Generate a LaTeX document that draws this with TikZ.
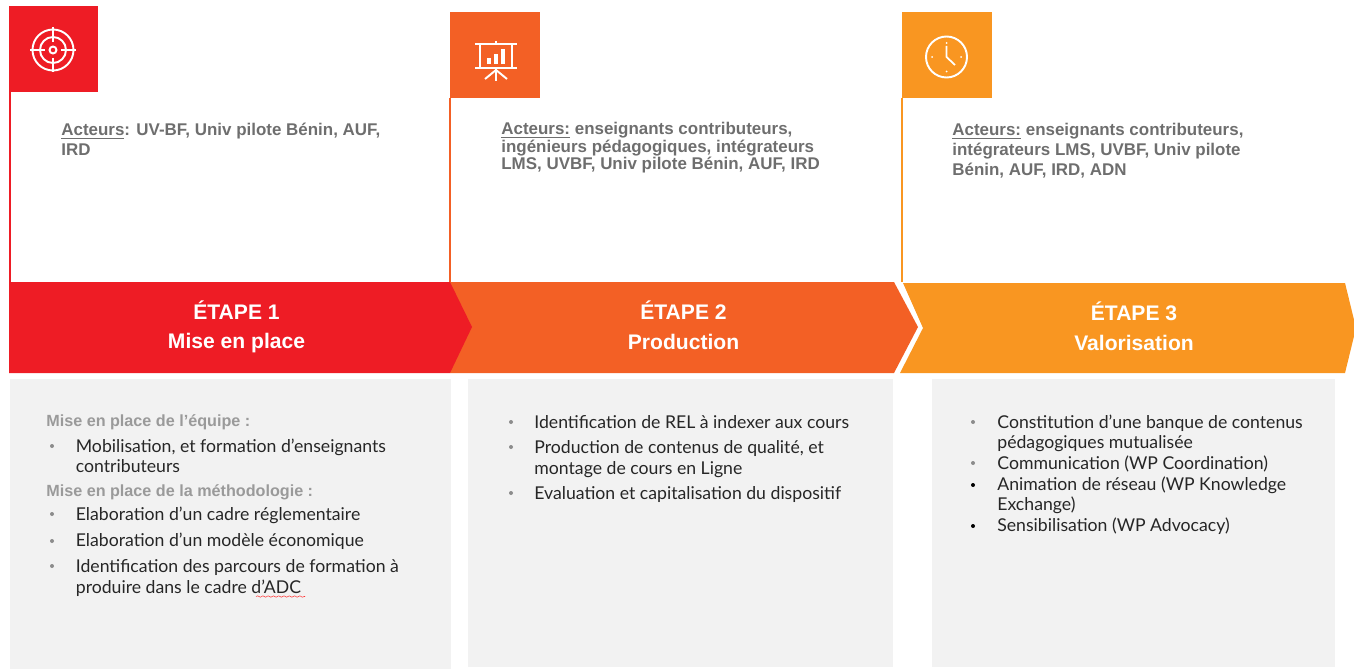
\documentclass[tikz,border=0pt]{standalone}
\usepackage{fontspec}
\setmainfont{Liberation Sans}
\newfontfamily\bodyfont{Lato}
\usetikzlibrary{decorations.pathmorphing}
\definecolor{etapeun}{HTML}{EE1C25}
\definecolor{etapedeux}{HTML}{F36025}
\definecolor{etapetrois}{HTML}{F99621}
\definecolor{boxgris}{HTML}{F2F2F2}
\definecolor{acteurgris}{HTML}{6E6E6E}
\definecolor{titregris}{HTML}{9A9A9A}
\definecolor{puce}{HTML}{8C8C8C}
\tikzset{
	acteur/.style={right,inner sep=0pt,text=acteurgris,font=\fontsize{9.65}{11.2}\selectfont\bfseries},
	etape/.style={inner sep=0pt,text=white,font=\fontsize{12}{14}\selectfont\bfseries},
	titre/.style={right,inner sep=0pt,text=titregris,font=\fontsize{9.2}{11}\selectfont\bfseries},
	ligne/.style={right,inner sep=0pt,text=black!85,font=\bodyfont\fontsize{10.05}{12}\selectfont},
	icone/.style={white,line width=1.1pt},
}
\begin{document}
\begin{tikzpicture}[x=0.02cm,y=-0.02cm]
		\useasboundingbox (0,0) rectangle (1354,669);
		
		% colonnes du haut
		\draw[etapeun,line width=1.1pt] (10,92) -- (10,282);
		\draw[etapedeux,line width=1.1pt] (450,98) -- (450,282);
		\draw[etapetrois,line width=1.1pt] (902,98) -- (902,282);
		\fill[etapeun] (9,6) rectangle (98,92);
		\fill[etapedeux] (450,12) rectangle (540,98);
		\fill[etapetrois] (902,12) rectangle (992,98);
		
		% icone cible
		\draw[icone] (53,50) circle (20.5);
		\draw[icone] (53,50) circle (13);
		\draw[icone] (53,50) circle (3.5);
		\draw[icone] (53,27) -- (53,42);
		\draw[icone] (53,58) -- (53,72);
		\draw[icone] (30,50) -- (45,50);
		\draw[icone] (61,50) -- (76,50);
		
		% icone tableau
		\draw[icone] (475,44) -- (517,44);
		\draw[icone] (475,68) -- (517,68);
		\draw[icone] (480,44) -- (480,68);
		\draw[icone] (512,44) -- (512,68);
		\draw[icone] (496,41) -- (496,44);
		\draw[icone] (496,68) -- (496,81);
		\draw[icone] (485,79) -- (496,70) -- (507,79);
		\fill[white] (487,58) rectangle (491,64);
		\fill[white] (494,54) rectangle (498,64);
		\fill[white] (501,49) rectangle (505,64);
		
		% icone horloge
		\draw[icone] (946.5,57) circle (20.5);
		\draw[icone,line width=1pt] (946.5,46) -- (946.5,57) -- (955,65);
		\fill[white] (946.5,43) circle (1);
		\fill[white] (946.5,71.5) circle (1);
		\fill[white] (932,57) circle (1);
		\fill[white] (961,57) circle (1);
		
		% fleches
		\fill[etapetrois] (903,283) -- (1345,283) -- (1356,328) -- (1345,373) -- (900,373) -- (923,328) -- cycle;
		\fill[etapedeux] (450,282) -- (894,282) -- (918,327) -- (894,373) -- (450,373) -- cycle;
		\fill[etapeun] (9,282) -- (450,282) -- (472,327) -- (450,373) -- (9,373) -- cycle;
		
		\node[etape] (etape1) at (236.5,310.5) {ÉTAPE 1};
		\node[etape] (mise) at (236.5,343) {Mise en place};
		\node[etape] (etape2) at (683.5,310.5) {ÉTAPE 2};
		\node[etape] (prod) at (683.5,342) {Production};
		\node[etape] (etape3) at (1134,311.5) {ÉTAPE 3};
		\node[etape] (valo) at (1134,343) {Valorisation};
		
		% acteurs
		\node[acteur] (act1a) at (61,131) {\underline{Acteurs}: UV-BF, Univ pilote Bénin, AUF,};
		\node[acteur] (act1b) at (61,149.5) {IRD};
		\node[acteur] (act2a) at (501,130) {\underline{Acteurs:} enseignants contributeurs,};
		\node[acteur] (act2b) at (501,148) {ingénieurs pédagogiques, intégrateurs};
		\node[acteur] (act2c) at (501,165) {LMS, UVBF, Univ pilote Bénin, AUF, IRD};
		\node[acteur] (act3a) at (952,131) {\underline{Acteurs:} enseignants contributeurs,};
		\node[acteur] (act3b) at (952,151) {intégrateurs LMS, UVBF, Univ pilote};
		\node[acteur] (act3c) at (952,171) {Bénin, AUF, IRD, ADN};
		
		% boites grises
		\fill[boxgris] (10,379) rectangle (451,669);
		\fill[boxgris] (468,379) rectangle (893,667);
		\fill[boxgris] (932,379) rectangle (1335,667);
		
		% boite 1
		\node[titre] (t1) at (46,422.5) {Mise en place de l’équipe :};
		\node[ligne] (l1) at (75.5,447) {Mobilisation, et formation d’enseignants};
		\node[ligne] (l2) at (75.5,466.5) {contributeurs};
		\node[titre] (t2) at (46,492) {Mise en place de la méthodologie :};
		\node[ligne] (l3) at (75.5,515) {Elaboration d’un cadre réglementaire};
		\node[ligne] (l4) at (75.5,541.5) {Elaboration d’un modèle économique};
		\node[ligne] (l5) at (75.5,568) {Identification des parcours de formation à};
		\node[ligne] (l6) at (75.5,588) {produire dans le cadre d’ADC};
		\fill[puce] (52,446) circle (2);
		\fill[puce] (52,514) circle (2);
		\fill[puce] (52,541) circle (2);
		\fill[puce] (52,566) circle (2);
		\draw[red!80,line width=.3pt,decorate,decoration={snake,amplitude=.4pt,segment length=3pt}] (256,596.5) -- (305,596.5);
		
		% boite 2
		\node[ligne] (p1) at (534,422.5) {Identification de REL à indexer aux cours};
		\node[ligne] (p2) at (534,449) {Production de contenus de qualité, et};
		\node[ligne] (p3) at (534,470) {montage de cours en Ligne};
		\node[ligne] (p4) at (534,494.5) {Evaluation et capitalisation du dispositif};
		\fill[puce] (511,422) circle (2);
		\fill[puce] (511,447) circle (2);
		\fill[puce] (511,493) circle (2);
		
		% boite 3
		\node[ligne] (v1) at (997,423) {Constitution d’une banque de contenus};
		\node[ligne] (v2) at (997,443.5) {pédagogiques mutualisée};
		\node[ligne] (v3) at (997,464) {Communication (WP Coordination)};
		\node[ligne] (v4) at (997,485) {Animation de réseau (WP Knowledge};
		\node[ligne] (v5) at (997,505) {Exchange)};
		\node[ligne] (v6) at (997,526) {Sensibilisation (WP Advocacy)};
		\fill[puce] (973,422) circle (2);
		\fill[puce] (973,463) circle (2);
		\fill[black] (973,485) circle (2);
		\fill[black] (973,526) circle (2);
	
	\end{tikzpicture}
\end{document}
